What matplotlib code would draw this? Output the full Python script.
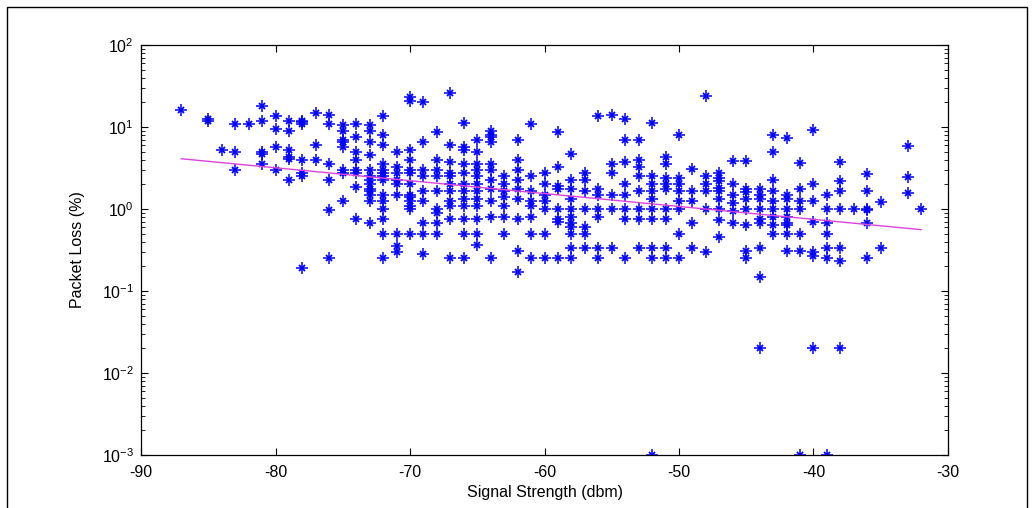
import matplotlib
matplotlib.use("Agg")
import matplotlib.pyplot as plt
from matplotlib.patches import Rectangle
import numpy as np

plt.rcParams['font.family'] = ['Liberation Sans', 'DejaVu Sans']
plt.rcParams['mathtext.default'] = 'regular'
plt.rcParams['axes.unicode_minus'] = False

# packet loss (%) measured at each signal strength (dbm)
loss_by_dbm = {
    -87: [16],
    -85: [12, 12.5],
    -84: [5.2],
    -83: [11, 5, 3],
    -82: [11],
    -81: [18, 12, 5, 4.67, 3.5],
    -80: [13.5, 9.5, 5.75, 3],
    -79: [12, 9, 5.25, 4.25, 4.1, 2.25],
    -78: [12, 11.5, 11, 4, 2.75, 2.5, 0.19],
    -77: [15, 6, 4],
    -76: [14, 11, 3.5, 2.25, 0.97, 0.25],
    -75: [10.5, 9, 7, 6.5, 5.7, 3, 2.75, 1.25],
    -74: [11, 7.5, 5, 4, 3, 2.75, 1.85, 0.75],
    -73: [10.5, 9, 6.5, 4.5, 3, 2.5, 2.25, 2, 1.75, 1.67, 1.5, 1.25, 0.67],
    -72: [13.5, 8, 6, 3.5, 3, 2.75, 2.5, 2.25, 1.5, 1.25, 1, 0.75, 0.5, 0.25],
    -71: [5, 3.25, 2.75, 2.25, 2, 1.5, 0.5, 0.35, 0.3],
    -70: [23, 21, 5.25, 4, 3, 2.75, 2, 1.5, 1.4, 1.25, 1.1, 1.0, 0.5],
    -69: [20, 6.5, 3, 2.5, 1.67, 1.25, 0.67, 0.5, 0.28],
    -68: [8.75, 4, 3, 2.5, 1.67, 1.0, 0.9, 0.67, 0.5],
    -67: [26, 6, 3.75, 2.75, 2.5, 2, 1.67, 1.25, 1.1, 0.75, 0.25],
    -66: [11.3, 5.75, 5.25, 3.5, 2.75, 2, 1.67, 1.33, 1.1, 0.75, 0.5, 0.25],
    -65: [7, 5, 3.5, 3, 2.5, 2, 1.67, 1.33, 1.1, 0.75, 0.5, 0.36],
    -64: [9, 8, 7.5, 6.5, 3.5, 3, 2.25, 1.75, 1.25, 0.8, 0.25],
    -63: [2.5, 2, 1.67, 1.4, 1.1, 0.8, 0.5],
    -62: [7, 4, 3, 2.25, 1.75, 1.33, 0.75, 0.31, 0.17],
    -61: [11, 2.5, 1.67, 1.25, 1.1, 0.8, 0.5, 0.25],
    -60: [2.75, 2, 1.5, 1.25, 1.0, 0.5, 0.25],
    -59: [8.75, 3.25, 1.9, 1.75, 1.0, 0.75, 0.7, 0.25],
    -58: [4.75, 2.25, 1.75, 1.33, 1.0, 0.8, 0.67, 0.6, 0.5, 0.33, 0.25],
    -57: [2.75, 2.25, 1.67, 1.0, 0.6, 0.5, 0.33],
    -56: [13.5, 1.75, 1.5, 1.0, 0.8, 0.33, 0.25],
    -55: [14, 3.5, 2.75, 1.5, 1.0, 0.33],
    -54: [12.5, 7, 3.75, 2, 1.5, 1.0, 0.75, 0.25],
    -53: [7, 4, 3.25, 2.5, 1.67, 1.0, 0.75, 0.33],
    -52: [11.3, 2.5, 2, 1.67, 1.33, 1.0, 0.75, 0.33, 0.25, 0.001],
    -51: [4.25, 3.5, 2.4, 2, 1.75, 1.0, 0.75, 0.33, 0.25],
    -50: [8, 2.4, 2, 1.67, 1.25, 1.0, 0.5, 0.25],
    -49: [3.1, 1.67, 1.25, 0.67, 0.33],
    -48: [24, 2.5, 2, 1.67, 1.0, 0.3],
    -47: [2.75, 2.4, 2.2, 1.8, 1.67, 1.33, 1.0, 0.73, 0.46],
    -46: [3.8, 2, 1.5, 1.2, 0.95, 0.67],
    -45: [3.9, 1.75, 1.6, 1.33, 1.0, 0.64, 0.31, 0.25],
    -44: [1.75, 1.5, 1.33, 1.0, 0.75, 0.67, 0.33, 0.15, 0.02],
    -43: [8, 4.9, 2.25, 1.67, 1.25, 1.0, 0.8, 0.64, 0.5],
    -42: [7.3, 1.5, 1.33, 1.0, 0.8, 0.67, 0.64, 0.5, 0.31],
    -41: [3.6, 1.75, 1.25, 1.0, 0.5, 0.31, 0.001],
    -40: [9.2, 2, 1.25, 0.7, 0.3, 0.27, 0.02],
    -39: [1.5, 1.0, 0.67, 0.5, 0.33, 0.25, 0.001],
    -38: [3.7, 2.2, 1.67, 1.0, 0.33, 0.23, 0.02],
    -37: [1.0],
    -36: [2.7, 1.67, 1.0, 0.97, 0.67, 0.25],
    -35: [1.23, 0.33],
    -33: [5.8, 2.45, 1.56],
    -32: [1.0],
}

# trend line end points
fit_dbm = [-87, -32]
fit_loss = [4.1, 0.56]

xticks = [-90, -80, -70, -60, -50, -40, -30]
yticks = [1e-3, 1e-2, 1e-1, 1e0, 1e1, 1e2]
ytick_labels = ['$10^{-3}$', '$10^{-2}$', '$10^{-1}$', '$10^{0}$', '$10^{1}$', '$10^{2}$']

dbm = []
loss = []
for k, vals in loss_by_dbm.items():
    dbm += [k] * len(vals)
    loss += vals

fig = plt.figure(figsize=(10.34, 5.08), dpi=100)
ax = fig.add_axes([0.1364, 0.1043, 0.7804, 0.8071])

ax.plot(dbm, loss, linestyle='none', marker='+', markersize=8,
        markeredgewidth=1.1, color='#0000ff')
ax.plot(dbm, loss, linestyle='none', marker='x', markersize=4.8,
        markeredgewidth=1.3, color='#0000ff')
ax.plot(fit_dbm, fit_loss, color='#dd44dd', linewidth=1.0, zorder=3)

ax.set_yscale('log')
ax.set_xlim(-90, -30)
ax.set_ylim(1e-3, 1e2)
ax.set_xticks(xticks)
ax.set_yticks(yticks)
ax.set_yticklabels(ytick_labels)
ax.tick_params(which='both', direction='in', top=True, right=True, labelsize=11.5)
ax.tick_params(which='major', length=5)
ax.tick_params(which='minor', length=3)
ax.tick_params(axis='x', pad=7)
ax.tick_params(axis='y', pad=5)
ax.yaxis.set_minor_locator(matplotlib.ticker.LogLocator(base=10, subs=np.arange(2, 10)))
ax.xaxis.set_minor_locator(matplotlib.ticker.NullLocator())
ax.yaxis.set_minor_formatter(matplotlib.ticker.NullFormatter())
for s in ax.spines.values():
    s.set_linewidth(0.9)

ax.set_xlabel('Signal Strength (dbm)', fontsize=11.5, labelpad=4)
ax.set_ylabel('Packet Loss (%)', fontsize=11.5, labelpad=12)

fig.patches.append(Rectangle((7 / 1034, -0.05), 1020 / 1034, 1.05 - 7 / 508,
                             transform=fig.transFigure, fill=False,
                             edgecolor='black', linewidth=1.0))

fig.savefig('out.png', dpi=100)
